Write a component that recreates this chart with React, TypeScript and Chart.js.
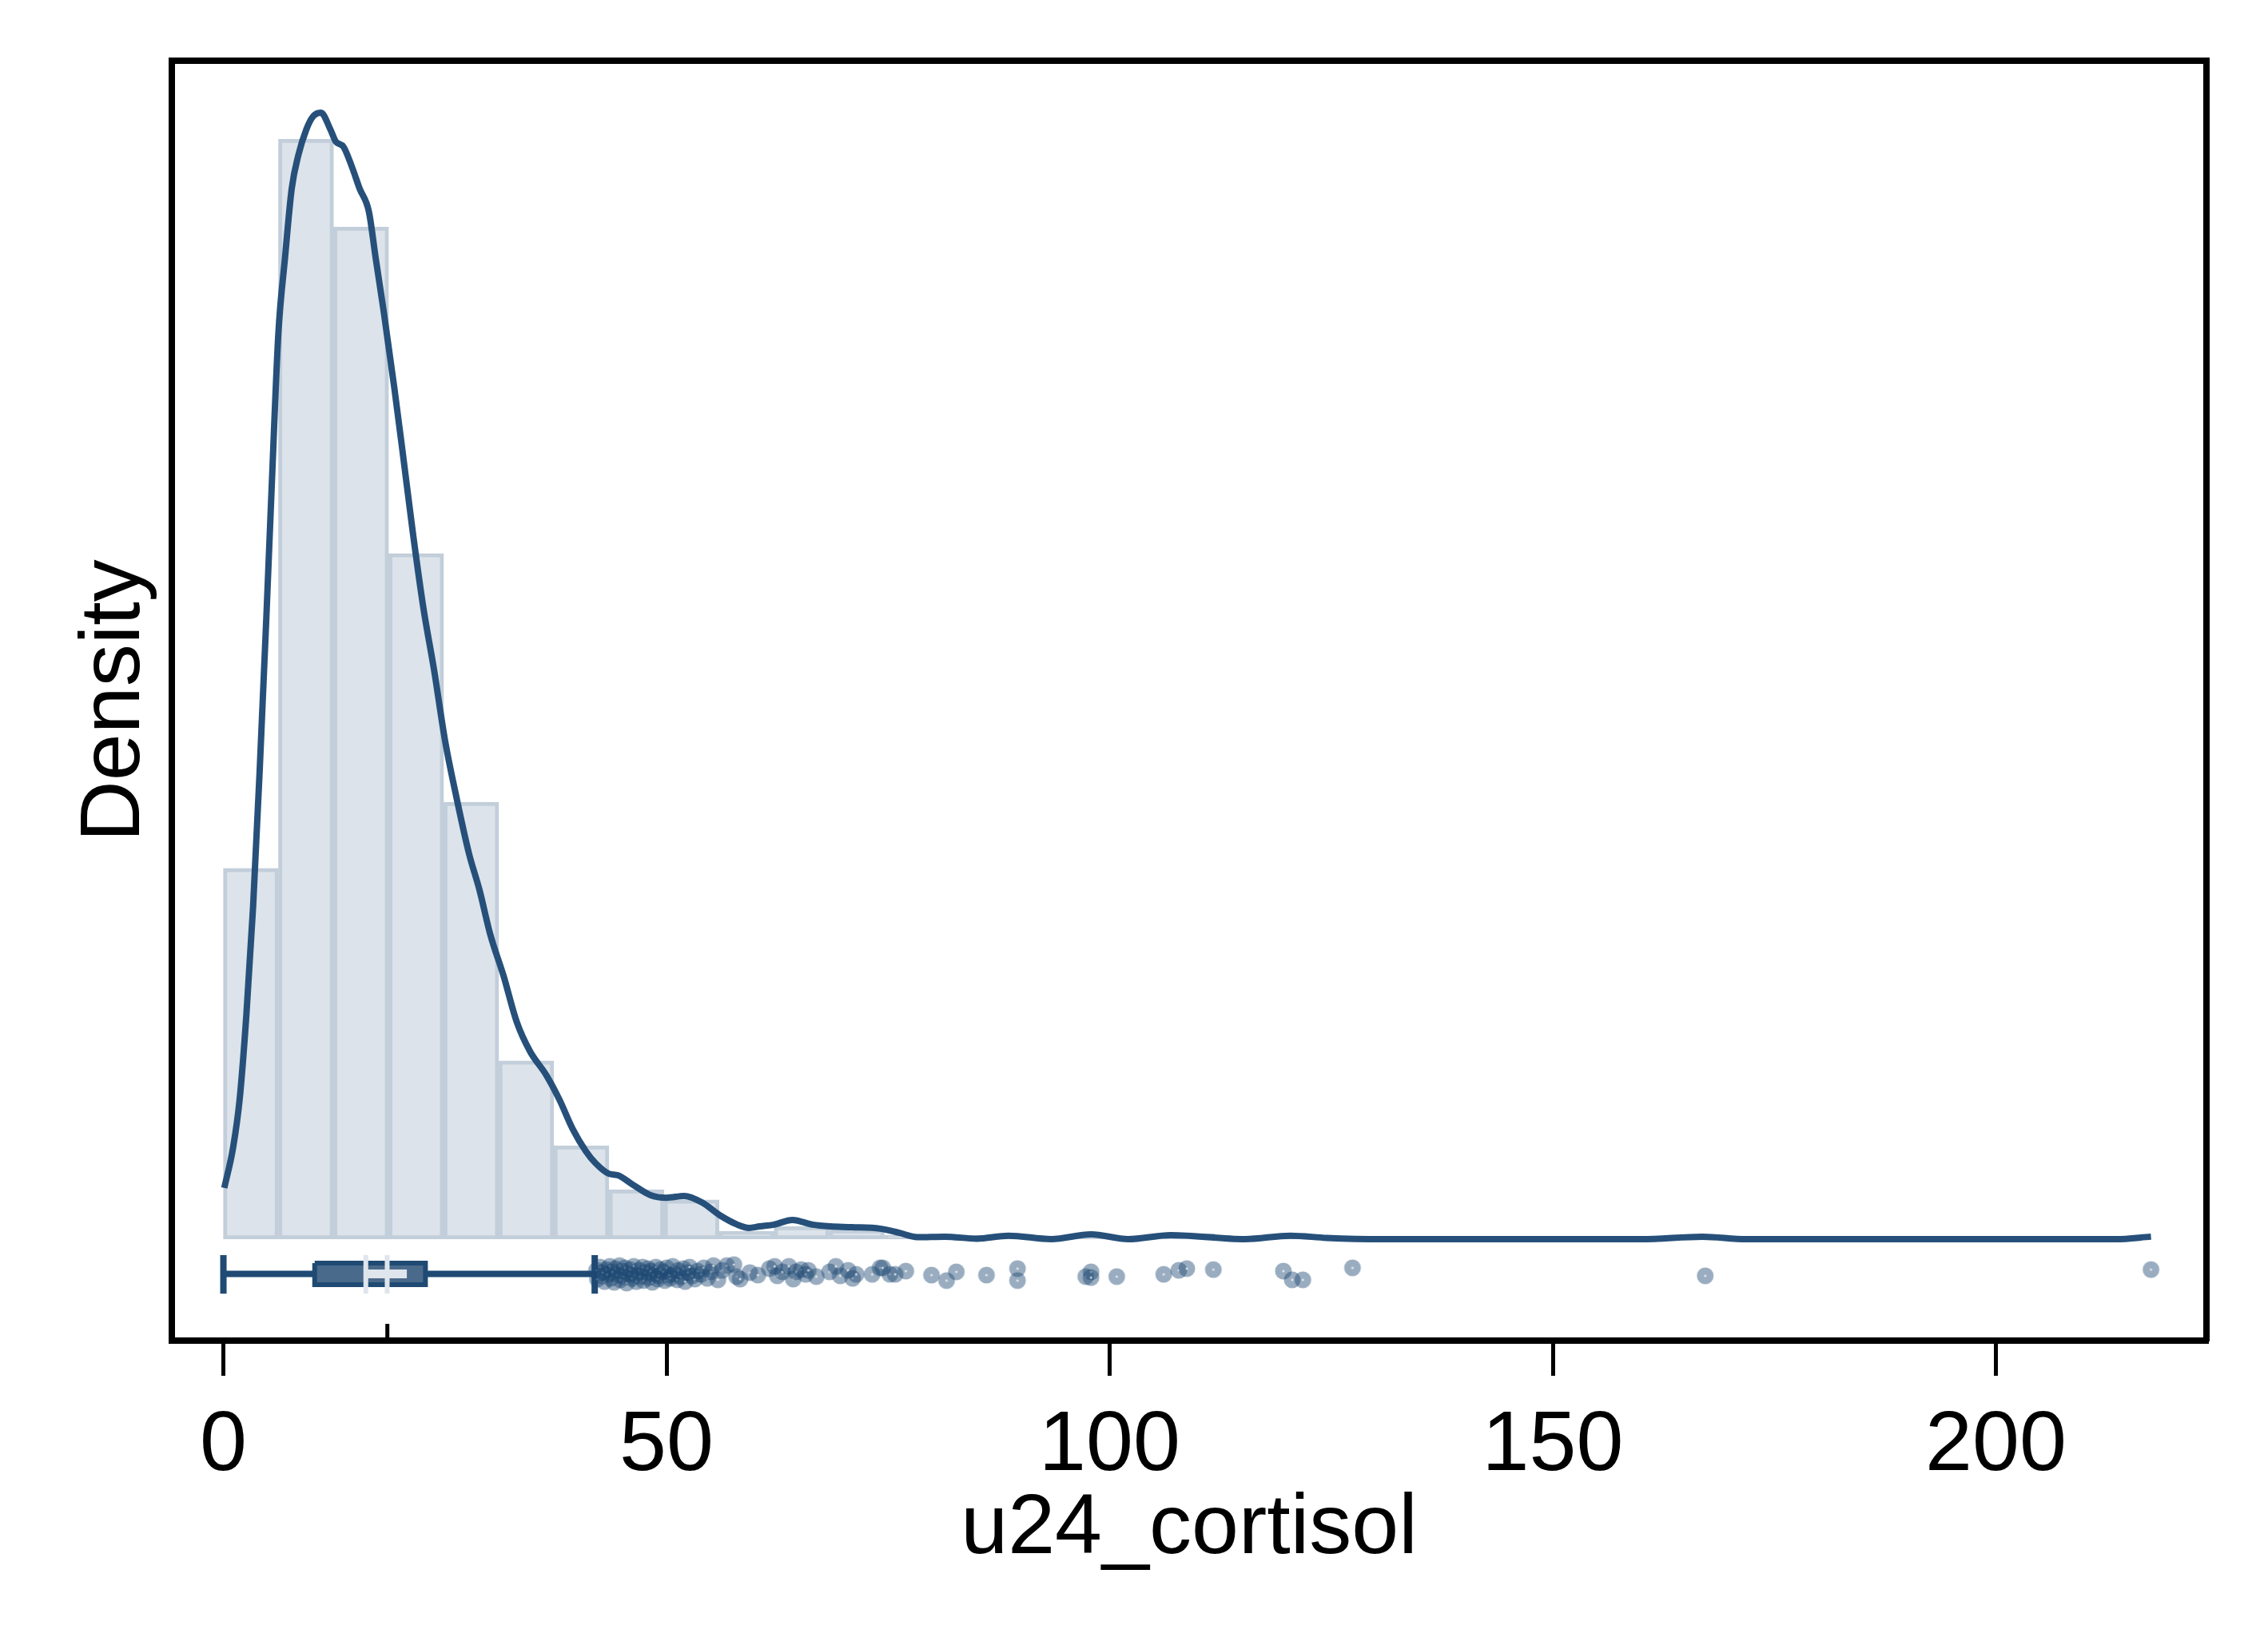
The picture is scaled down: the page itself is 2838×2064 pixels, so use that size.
import { useEffect, useRef } from 'react';
import Chart from 'chart.js/auto';

const W = 2838;
const H = 2064;

// histogram of u24_cortisol (density scale), 35 bins from 0
const binStart = 0;
const binWidth = 6.214;
const binDensity = [
  0.01485, 0.04406, 0.04054, 0.02746, 0.0175, 0.00714, 0.00374, 0.00198,
  0.00157, 0.00032, 0.00051, 0.00038, 0.00016, 0.00016, 0.00011, 0.00011,
  0.00005, 0.00022, 0, 0.00016, 0.00005, 0, 0, 0, 0, 0, 0.00005, 0, 0, 0, 0,
  0, 0, 0, 0.00005,
];

// kernel density estimate
const kdeX = [
  0.1, 1.1, 1.85, 2.6, 3.35, 4.1, 4.85, 5.45, 6.2, 6.95, 7.71, 8.46, 9.36,
  10.1, 11.0, 12.07, 12.67, 13.57, 14.47, 15.37, 16.42, 17.18, 18.08, 19.28,
  20.18, 21.38, 22.58, 23.78, 24.98, 26.18, 27.7, 28.9, 30.1, 31.6, 33.1,
  34.6, 36.4, 37.9, 39.4, 40.9, 42.0, 43.5, 44.5, 46.2, 48.2, 50.0, 52.0,
  54.0, 56.0, 58.0, 59.3, 60.5, 62.1, 64.2, 66.5, 68.5, 70.9, 74.1, 76.2,
  78.3, 81.4, 85.0, 88.6, 93.4, 97.9, 102.1, 106.9, 115.3, 120.4, 124.5,
  130.7, 160.0, 166.9, 171.8, 213.5, 217.5,
];
const kdeY = [
  0.00205, 0.00368, 0.00566, 0.00902, 0.01331, 0.01882, 0.02493, 0.03014,
  0.03626, 0.0393, 0.04208, 0.04342, 0.04445, 0.04496, 0.04512, 0.04445,
  0.04397, 0.04374, 0.04298, 0.04208, 0.04115, 0.0393, 0.03718, 0.03411,
  0.03165, 0.02829, 0.02525, 0.02278, 0.02003, 0.01789, 0.01546, 0.01398,
  0.01222, 0.01056, 0.0087, 0.00752, 0.00659, 0.0056, 0.00442, 0.00352,
  0.00304, 0.00262, 0.00256, 0.00218, 0.00176, 0.00166, 0.00173, 0.00147,
  0.00096, 0.00058, 0.00045, 0.00051, 0.00058, 0.00077, 0.00058, 0.00051,
  0.00048, 0.00042, 0.00026, 0.00008, 0.0001, 0.00002, 0.00014, 0, 0.00019,
  0, 0.00016, 0, 0.00014, 0.00005, 0, 0, 0.0001, 0, 0, 0.0001,
];

const xTicks = [0, 50, 100, 150, 200];

// box plot summary
const whiskerLow = 0;
const quartileLow = 10.3;
const quartileHigh = 22.8;
const whiskerHigh = 41.9;
const medianCiLow = 16.07;
const medianCiHigh = 18.48;
const bandHigh = 20.7;
const meanValue = 18.5;

// outside values (x) and their vertical jitter (density units)
const outlierX = [
  42.1, 42.2, 42.5, 42.7, 42.8, 43.0, 43.2, 43.3, 43.6, 43.7, 43.9, 44.1,
  44.2, 44.4, 44.7, 44.8, 45.0, 45.2, 45.3, 45.5, 45.8, 45.9, 46.1, 46.3,
  46.4, 46.6, 46.9, 47.0, 47.3, 47.4, 47.6, 47.9, 48.0, 48.2, 48.4, 48.5,
  48.8, 49.0, 49.1, 49.3, 49.6, 49.8, 50.0, 50.3, 50.4, 50.7, 50.9, 51.2,
  51.3, 51.6, 51.9, 52.1, 52.4, 52.6, 52.9, 53.2, 53.5, 53.9, 54.2, 54.6,
  55.0, 55.3, 55.8, 56.3, 56.8, 57.6, 57.9, 58.3, 59.4, 60.3, 61.6, 62.2,
  62.5, 63.1, 63.8, 64.3, 64.6, 65.2, 65.7, 66.0, 66.9, 68.4, 69.1, 69.6,
  70.5, 71.0, 71.4, 73.2, 74.1, 74.4, 75.2, 75.8, 77.0, 79.9, 81.6, 82.7,
  86.1, 89.6, 89.6, 97.3, 97.9, 97.9, 100.8, 106.1, 107.8, 108.7, 111.7,
  119.6, 120.6, 121.8, 127.4, 167.2, 217.5,
];
const outlierY = [
  -0.00125, -0.0016, -0.00112, -0.00147, -0.00134, -0.0017, -0.00122,
  -0.00141, -0.00109, -0.00157, -0.00131, -0.00173, -0.00118, -0.00144,
  -0.00106, -0.00163, -0.00128, -0.0015, -0.00115, -0.00176, -0.00138,
  -0.00122, -0.00157, -0.00109, -0.00144, -0.0017, -0.00125, -0.0015,
  -0.00112, -0.00166, -0.00134, -0.00118, -0.00154, -0.00128, -0.00173,
  -0.00141, -0.00112, -0.0016, -0.00147, -0.00122, -0.00131, -0.00166,
  -0.00115, -0.00144, -0.00157, -0.00109, -0.00138, -0.00163, -0.00125,
  -0.0015, -0.00118, -0.0017, -0.00134, -0.00112, -0.00147, -0.0016,
  -0.00128, -0.00141, -0.00115, -0.00157, -0.00131, -0.00106, -0.00163,
  -0.00125, -0.00106, -0.00102, -0.0015, -0.0016, -0.00134, -0.00144,
  -0.00118, -0.00109, -0.00147, -0.00131, -0.00109, -0.0016, -0.00131,
  -0.00122, -0.00141, -0.00125, -0.0015, -0.00131, -0.00109, -0.00147,
  -0.00125, -0.00157, -0.00141, -0.00141, -0.00115, -0.00115, -0.00141,
  -0.00141, -0.00128, -0.00144, -0.00166, -0.00131, -0.00144, -0.00118,
  -0.00166, -0.0015, -0.00131, -0.00154, -0.0015, -0.00141, -0.00125,
  -0.00118, -0.00122, -0.00128, -0.00163, -0.00163, -0.00115, -0.00147,
  -0.00122,
];

// axis ranges and box-plot row placement
const xMin = -5.82;
const xMax = 223.76;
const yMin = -0.004064;
const yMax = 0.0472;
const boxRowY = -0.00139;
const boxTopY = -0.00096;
const boxBottomY = -0.00182;
const capTopY = -0.00064;
const capBottomY = -0.00218;
const meanTickTopY = -0.00339;

const FONT = "'Liberation Sans', Arial, Helvetica, sans-serif";
const NAVY = '#1f4a73';
const KDE = '#26507a';
const LIGHT = '#dfe5ec';

function makeMarker() {
  const c = document.createElement('canvas');
  c.width = 24;
  c.height = 24;
  const g = c.getContext('2d')!;
  g.fillStyle = 'rgba(31,74,115,0.45)';
  g.beginPath();
  g.arc(12, 12, 10.5, 0, Math.PI * 2);
  g.fill();
  g.fillStyle = 'rgba(255,255,255,0.7)';
  g.beginPath();
  g.arc(12, 12, 1.5, 0, Math.PI * 2);
  g.fill();
  return c;
}

const seg = (x1: number, y1: number, x2: number, y2: number) => [
  { x: x1, y: y1 },
  { x: x2, y: y2 },
];

export default function App() {
  const chartRef = useRef<HTMLCanvasElement>(null);

  useEffect(() => {
    document.body.style.margin = '0';
    document.body.style.overflow = 'hidden';
    if (!chartRef.current) return;

    const lineDefaults = {
      type: 'line' as const,
      pointRadius: 0,
      fill: false,
      tension: 0,
    };

    const chart = new Chart(chartRef.current, {
      type: 'scatter',
      data: {
        datasets: [
          {
            type: 'bar',
            data: binDensity.map((d, i) => ({
              x: binStart + (i + 0.5) * binWidth,
              y: d,
            })),
            backgroundColor: '#dce3ea',
            borderColor: '#c2ceda',
            borderWidth: 5,
            borderSkipped: false,
            barPercentage: 1,
            categoryPercentage: 1,
            order: 20,
          },
          {
            ...lineDefaults,
            data: kdeX.map((x, i) => ({ x, y: kdeY[i] })),
            borderColor: KDE,
            borderWidth: 8,
            cubicInterpolationMode: 'monotone',
            order: 10,
          },
          {
            ...lineDefaults,
            data: seg(whiskerLow, boxRowY, whiskerHigh, boxRowY),
            borderColor: NAVY,
            borderWidth: 8,
            order: 9,
          },
          {
            ...lineDefaults,
            data: seg(whiskerLow, capTopY, whiskerLow, capBottomY),
            borderColor: NAVY,
            borderWidth: 8,
            order: 9,
          },
          {
            ...lineDefaults,
            data: seg(whiskerHigh, capTopY, whiskerHigh, capBottomY),
            borderColor: NAVY,
            borderWidth: 8,
            order: 9,
          },
          {
            ...lineDefaults,
            data: seg(quartileLow, boxTopY, quartileHigh, boxTopY),
            borderWidth: 0,
            order: 8,
          },
          {
            ...lineDefaults,
            data: seg(quartileLow, boxBottomY, quartileHigh, boxBottomY),
            borderWidth: 0,
            fill: '-1',
            backgroundColor: '#4a6a8b',
            order: 7,
          },
          {
            ...lineDefaults,
            data: [
              { x: quartileLow, y: boxTopY },
              { x: quartileHigh, y: boxTopY },
              { x: quartileHigh, y: boxBottomY },
              { x: quartileLow, y: boxBottomY },
              { x: quartileLow, y: boxTopY },
            ],
            borderColor: NAVY,
            borderWidth: 6,
            borderJoinStyle: 'miter',
            order: 6,
          },
          {
            ...lineDefaults,
            data: seg(medianCiLow, boxRowY, bandHigh, boxRowY),
            borderColor: LIGHT,
            borderWidth: 11,
            order: 5,
          },
          {
            ...lineDefaults,
            data: seg(medianCiLow, capTopY, medianCiLow, capBottomY),
            borderColor: LIGHT,
            borderWidth: 6,
            order: 5,
          },
          {
            ...lineDefaults,
            data: seg(medianCiHigh, capTopY, medianCiHigh, capBottomY),
            borderColor: LIGHT,
            borderWidth: 6,
            order: 5,
          },
          {
            type: 'scatter',
            data: outlierX.map((x, i) => ({ x, y: outlierY[i] })),
            pointStyle: makeMarker(),
            pointRadius: 10,
            order: 4,
          },
          {
            ...lineDefaults,
            data: seg(meanValue, meanTickTopY, meanValue, yMin),
            borderColor: '#000',
            borderWidth: 5,
            order: 3,
          },
        ],
      } as any,
      options: {
        responsive: false,
        animation: false,
        events: [],
        layout: { padding: { top: 76, right: 77, bottom: 0, left: 0 } },
        plugins: {
          legend: { display: false },
          tooltip: { enabled: false },
        },
        scales: {
          x: {
            type: 'linear',
            position: 'bottom',
            min: xMin,
            max: xMax,
            offset: false,
            afterBuildTicks: (s: any) => {
              s.ticks = xTicks.map((v) => ({ value: v }));
            },
            afterFit: (s: any) => {
              s.height = 386;
            },
            ticks: {
              color: '#000',
              padding: 25,
              maxRotation: 0,
              autoSkip: false,
              font: { family: FONT, size: 106, lineHeight: 1.2 },
            },
            grid: {
              offset: false,
              drawOnChartArea: false,
              drawTicks: true,
              tickLength: 44,
              lineWidth: 5,
              color: '#000',
            },
            border: { display: true, width: 8, color: '#000' },
            title: {
              display: true,
              text: 'u24_cortisol',
              color: '#000',
              font: { family: FONT, size: 106, lineHeight: 1.2 },
              padding: { top: 0, bottom: 86 },
            },
          },
          xTop: {
            type: 'linear',
            position: 'top',
            min: xMin,
            max: xMax,
            offset: false,
            afterFit: (s: any) => {
              s.height = 0;
            },
            ticks: { display: false },
            grid: { display: false, offset: false, drawTicks: false },
            border: { display: true, width: 8, color: '#000' },
          },
          y: {
            type: 'linear',
            position: 'left',
            min: yMin,
            max: yMax,
            afterFit: (s: any) => {
              s.width = 215;
            },
            ticks: { display: false },
            grid: { display: false, drawTicks: false },
            border: { display: true, width: 8, color: '#000' },
            title: {
              display: true,
              text: 'Density',
              color: '#000',
              font: { family: FONT, size: 106, lineHeight: 1.2 },
              padding: { top: 81, bottom: 0 },
            },
          },
          yRight: {
            type: 'linear',
            position: 'right',
            min: yMin,
            max: yMax,
            afterFit: (s: any) => {
              s.width = 0;
            },
            ticks: { display: false },
            grid: { display: false, drawTicks: false },
            border: { display: true, width: 8, color: '#000' },
          },
        },
      } as any,
    });

    return () => chart.destroy();
  }, []);

  return (
    <div style={{ width: W, height: H, background: '#fff' }}>
      <canvas
        ref={chartRef}
        width={W}
        height={H}
        style={{ display: 'block' }}
      />
    </div>
  );
}
